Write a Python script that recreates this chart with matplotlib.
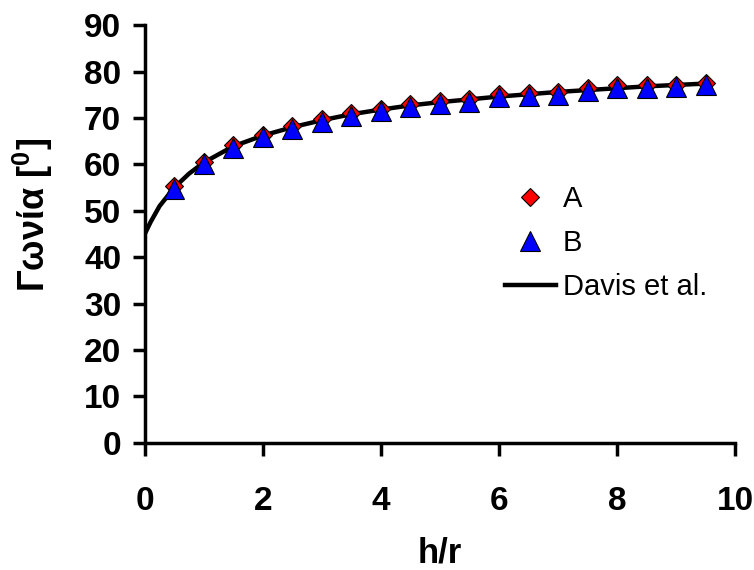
import matplotlib
matplotlib.use("Agg")
import matplotlib.pyplot as plt

# data
hr = [0.5, 1, 1.5, 2, 2.5, 3, 3.5, 4, 4.5, 5, 5.5, 6, 6.5, 7, 7.5, 8, 8.5, 9, 9.5]
angle_A = [55.3, 60.6, 64.1, 66.4, 68.2, 69.7, 71.0, 72.0, 72.9, 73.6, 74.0, 75.1, 75.3, 75.6, 76.4, 77.1, 77.1, 77.2, 77.6]
angle_B = [54.6, 60.0, 63.5, 65.8, 67.6, 69.1, 70.4, 71.4, 72.3, 73.0, 73.4, 74.5, 74.7, 75.0, 75.8, 76.5, 76.5, 76.6, 77.0]

davis_x = [0, 0.1, 0.25, 0.5, 0.75, 1, 1.5, 2, 2.5, 3, 3.5, 4, 4.5, 5, 5.5, 6, 6.5, 7, 7.5, 8, 8.5, 9, 9.5]
davis_y = [45, 47.6, 51.0, 55.0, 58.0, 60.4, 63.9, 66.2, 68.0, 69.5, 70.8, 71.8, 72.7, 73.4, 74.0, 74.6, 75.1, 75.6, 76.0, 76.4, 76.8, 77.1, 77.4]

plt.rcParams['font.family'] = ['Liberation Sans', 'DejaVu Sans']
plt.rcParams['mathtext.fontset'] = 'custom'
plt.rcParams['mathtext.rm'] = 'Liberation Sans'
plt.rcParams['mathtext.bf'] = 'Liberation Sans:bold'

fig = plt.figure(figsize=(7.54, 5.70), dpi=100)
ax = fig.add_axes([0.192, 0.223, 0.783, 0.733])

ax.plot(davis_x, davis_y, color='black', lw=3.2, label='Davis et al.', zorder=2)
ax.plot(hr, angle_A, ls='none', marker='D', ms=9, mfc='red', mec='black', mew=0.8, label='A', zorder=3)
ax.plot(hr, angle_B, ls='none', marker='^', ms=15, mfc='blue', mec='black', mew=0.8, label='B', zorder=4)

ax.set_xlim(0, 10)
ax.set_ylim(0, 90)
ax.set_xticks([0, 2, 4, 6, 8, 10])
ax.set_yticks(range(0, 91, 10))

for s in ['top', 'right']:
    ax.spines[s].set_visible(False)
for s in ['left', 'bottom']:
    ax.spines[s].set_linewidth(2.5)

ax.tick_params(axis='both', direction='out', length=9, width=2.5, labelsize=24)
ax.tick_params(axis='x', pad=22)
ax.tick_params(axis='y', pad=8)
for lab in ax.get_xticklabels() + ax.get_yticklabels():
    lab.set_fontweight('bold')

ax.set_xlabel('h/r', fontsize=25, fontweight='bold', labelpad=14)
ax.set_ylabel(r'Γωνία [$^{\mathbf{0}}$]', fontsize=26, fontweight='bold')
ax.yaxis.set_label_coords(-0.152, 0.545)

h, l = ax.get_legend_handles_labels()
order = [1, 2, 0]
ax.legend([h[i] for i in order], [l[i] for i in order], loc='upper left',
          bbox_to_anchor=(0.585, 0.652), frameon=False, fontsize=21,
          labelspacing=0.55, handlelength=1.75, handletextpad=0.25, borderpad=0)

fig.savefig('out.png', dpi=100)
